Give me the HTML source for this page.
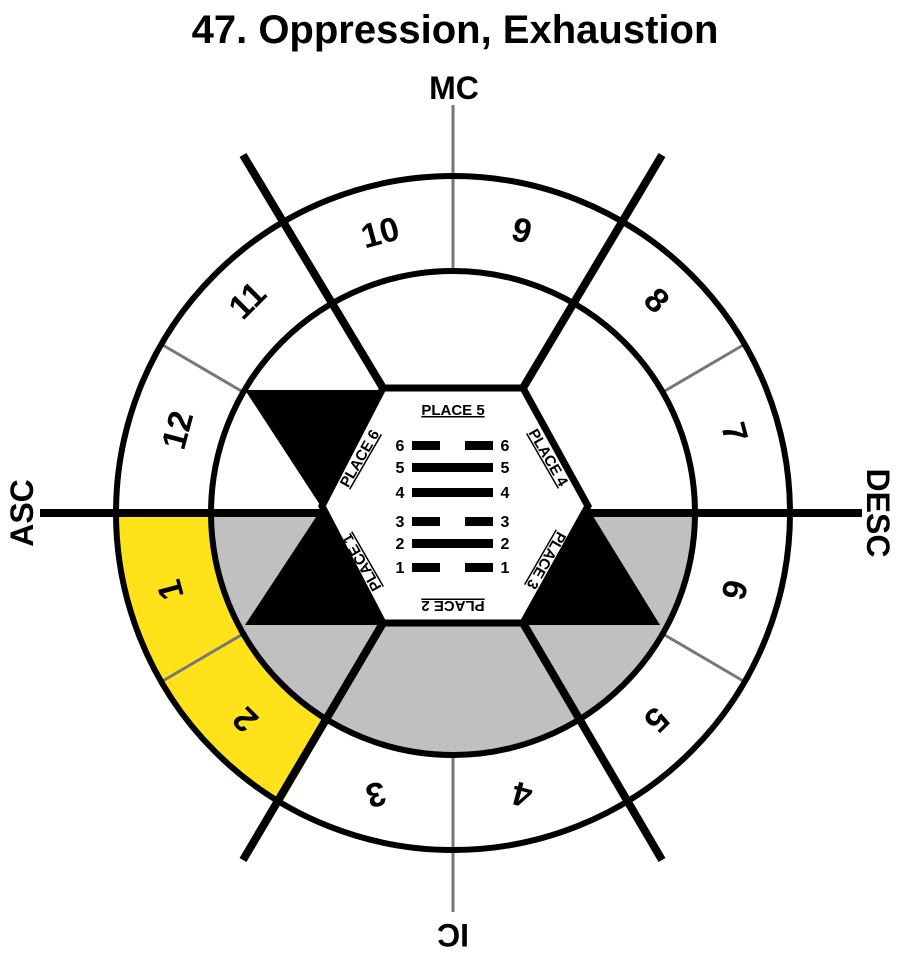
<!DOCTYPE html>
<html><head><style>
html,body{margin:0;padding:0;background:#fff;}
svg{display:block;font-family:"Liberation Sans",Arial,sans-serif;font-weight:bold;}
</style></head><body>
<svg width="900" height="955" viewBox="0 0 900 955">
<rect width="900" height="955" fill="#fff"/>
<text x="455" y="43" font-size="40" text-anchor="middle">47. Oppression, Exhaustion</text>
<path d="M211,513 A242 242 0 0 0 695,513 Z" fill="#c0c0c0"/>
<path d="M116,513 A337 337 0 0 0 282,803 L330,720 A242 242 0 0 1 211,513 Z" fill="#ffe21a"/>
<polygon points="245,390 383,390 322,508" fill="#000"/>
<polygon points="322,508 383,625 245,625" fill="#000"/>
<polygon points="588,508 660,625 523,625" fill="#000"/>
<g stroke="#777" stroke-width="3">
<line x1="453" y1="105" x2="453" y2="271"/>
<line x1="453" y1="755" x2="453" y2="912"/>
<line x1="243" y1="392" x2="161" y2="344"/>
<line x1="663" y1="392" x2="745" y2="344"/>
<line x1="243" y1="634" x2="161" y2="682"/>
<line x1="663" y1="634" x2="745" y2="682"/>
</g>
<circle cx="453" cy="513" r="337" fill="none" stroke="#000" stroke-width="6"/>
<circle cx="453" cy="513" r="242" fill="none" stroke="#000" stroke-width="6"/>
<g stroke="#000" stroke-width="8">
<line x1="40" y1="513" x2="862" y2="513"/>
<line x1="243" y1="155" x2="383" y2="388"/>
<line x1="383" y1="623" x2="243" y2="860"/>
<line x1="662" y1="155" x2="523" y2="388"/>
<line x1="523" y1="623" x2="662" y2="860"/>
</g>
<polygon points="383,388 523,388 588,506 523,623 383,623 322,506" fill="#fff" stroke="#000" stroke-width="7"/>
<g fill="#000">
<rect x="412" y="441" width="28" height="9"/><rect x="465" y="441" width="28" height="9"/>
<rect x="412" y="463" width="81" height="9"/>
<rect x="412" y="488" width="81" height="9"/>
<rect x="412" y="517" width="28" height="9"/><rect x="465" y="517" width="28" height="9"/>
<rect x="412" y="539" width="81" height="9"/>
<rect x="412" y="563" width="28" height="9"/><rect x="465" y="563" width="28" height="9"/>
</g>
<g font-size="16" text-anchor="middle">
<text x="400" y="451">6</text><text x="505" y="451">6</text>
<text x="400" y="473">5</text><text x="505" y="473">5</text>
<text x="400" y="498">4</text><text x="505" y="498">4</text>
<text x="400" y="527">3</text><text x="505" y="527">3</text>
<text x="400" y="549">2</text><text x="505" y="549">2</text>
<text x="400" y="573">1</text><text x="505" y="573">1</text>
</g>
<g font-size="15" text-anchor="middle" text-decoration="underline">
<text x="453" y="415">PLACE 5</text>
<text transform="translate(453,601) rotate(180)">PLACE 2</text>
<text transform="translate(364,461) rotate(-60)">PLACE 6</text>
<text transform="translate(544,460) rotate(60)">PLACE 4</text>
<text transform="translate(366,560) rotate(-120)">PLACE 1</text>
<text transform="translate(542,558) rotate(120)">PLACE 3</text>
</g>
<g font-size="34" text-anchor="middle">
<text transform="translate(380,232) rotate(-15)" y="12">10</text>
<text transform="translate(522,230) rotate(15)" y="12">9</text>
<text transform="translate(247,300) rotate(-45)" y="12">11</text>
<text transform="translate(657,300) rotate(45)" y="12">8</text>
<text transform="translate(177,430) rotate(-75)" y="12">12</text>
<text transform="translate(735,432) rotate(75)" y="12">7</text>
<text transform="translate(170,590) rotate(-105)" y="12">1</text>
<text transform="translate(735,590) rotate(105)" y="12">6</text>
<text transform="translate(245,720) rotate(-135)" y="12">2</text>
<text transform="translate(657,720) rotate(135)" y="12">5</text>
<text transform="translate(376,795) rotate(165)" y="12">3</text>
<text transform="translate(522,795) rotate(-165)" y="12">4</text>
</g>
<g font-size="32" text-anchor="middle">
<text x="454" y="99">MC</text>
<text transform="translate(453,924) rotate(180)">IC</text>
<text transform="translate(33,513) rotate(-90)">ASC</text>
<text transform="translate(867,513) rotate(90)">DESC</text>
</g>
</svg>
</body></html>
